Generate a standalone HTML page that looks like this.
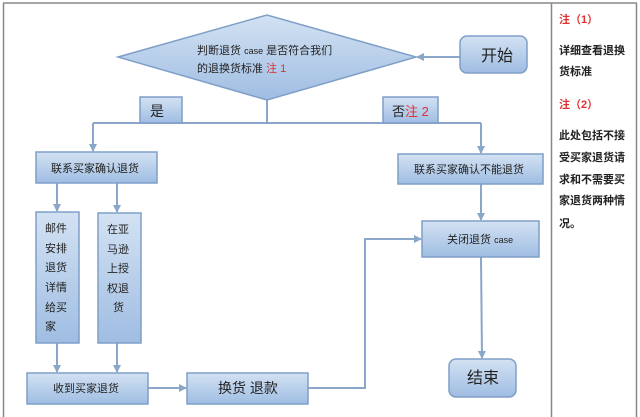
<!DOCTYPE html>
<html><head><meta charset="utf-8"><style>
html,body{margin:0;padding:0;background:#fff;width:640px;height:417px;overflow:hidden}
svg text{font-family:"Liberation Sans","Noto Sans CJK SC",sans-serif;fill:#222}
</style></head><body>
<svg width="640" height="417" xmlns="http://www.w3.org/2000/svg">
<defs>
<linearGradient id="g" x1="0" y1="0" x2="0" y2="1"><stop offset="0" stop-color="#d3e2f3"/><stop offset="1" stop-color="#9fbde2"/></linearGradient>
<marker id="a" markerWidth="8" markerHeight="8" refX="7" refY="4" orient="auto" markerUnits="userSpaceOnUse"><path d="M0,0 L8,4 L0,8 z" fill="#8aa6c8"/></marker>
</defs>
<g stroke="#888" stroke-width="1.5" fill="none">
<line x1="3" y1="3" x2="637" y2="3"/>
<line x1="3.5" y1="3" x2="3.5" y2="417"/>
<line x1="551.5" y1="3" x2="551.5" y2="417"/>
<line x1="636.5" y1="3" x2="636.5" y2="417"/>
</g>
<g stroke="#8aa6c8" stroke-width="2" fill="none">
<line x1="460" y1="57" x2="417" y2="57" marker-end="url(#a)"/>
<line x1="267" y1="100" x2="267" y2="123"/>
<line x1="93" y1="123" x2="481" y2="123"/>
<line x1="93" y1="123" x2="93" y2="151" marker-end="url(#a)"/>
<line x1="481" y1="123" x2="481" y2="153" marker-end="url(#a)"/>
<line x1="57" y1="183" x2="57" y2="211" marker-end="url(#a)"/>
<line x1="117" y1="183" x2="117" y2="212" marker-end="url(#a)"/>
<line x1="57" y1="343" x2="57" y2="372" marker-end="url(#a)"/>
<line x1="117" y1="343" x2="117" y2="372" marker-end="url(#a)"/>
<line x1="148" y1="388" x2="186" y2="388" marker-end="url(#a)"/>
<polyline points="308,388 365,388 365,239 421,239" marker-end="url(#a)"/>
<line x1="481" y1="184" x2="481" y2="220" marker-end="url(#a)"/>
<line x1="481" y1="257" x2="482" y2="358" marker-end="url(#a)"/>
</g>
<g fill="url(#g)" stroke="#7f9fc8" stroke-width="1.5">
<polygon points="118,57 267,15 416,57 267,100"/>
<rect x="460" y="36" width="67" height="37" rx="7"/>
<rect x="140" y="97" width="42" height="26"/>
<rect x="383" y="97" width="55" height="26"/>
<rect x="36" y="152" width="121" height="31"/>
<rect x="398" y="154" width="145" height="30"/>
<rect x="36" y="212" width="43" height="131"/>
<rect x="98" y="213" width="43" height="130"/>
<rect x="27" y="373" width="121" height="31"/>
<rect x="187" y="373" width="121" height="31"/>
<rect x="422" y="221" width="117" height="36"/>
<rect x="449" y="359" width="67" height="38" rx="7"/>
</g>
<g font-size="11">
<text x="197" y="54">判断退货 <tspan font-size="9">case</tspan> 是否符合我们</text>
<text x="197" y="72">的退换货标准 <tspan style="fill:#e03030">注 1</tspan></text>
<text x="481" y="61" font-size="16">开始</text>
<text x="150" y="116" font-size="14">是</text>
<text x="392" y="116" font-size="13">否<tspan style="fill:#e03030">注 2</tspan></text>
<text x="51" y="172">联系买家确认退货</text>
<text x="414" y="173">联系买家确认不能退货</text>
<text x="447" y="243">关闭退货 <tspan font-size="9">case</tspan></text>
<text x="53" y="392">收到买家退货</text>
<text x="218" y="393" font-size="14">换货 退款</text>
<text x="467" y="383" font-size="16">结束</text>
</g>
<g font-size="11">
<text x="45" y="232">邮件</text><text x="45" y="252">安排</text><text x="45" y="271">退货</text><text x="45" y="291">详情</text><text x="45" y="311">给买</text><text x="45" y="330">家</text>
<text x="107" y="233">在亚</text><text x="107" y="253">马逊</text><text x="107" y="272">上授</text><text x="107" y="292">权退</text><text x="113" y="311">货</text>
</g>
<g font-size="11" font-weight="bold">
<text x="559" y="23" style="fill:#e03030">注（1）</text>
<text x="559" y="54">详细查看退换</text>
<text x="559" y="75">货标准</text>
<text x="559" y="108" style="fill:#e03030">注（2）</text>
<text x="559" y="139">此处包括不接</text>
<text x="559" y="161">受买家退货请</text>
<text x="559" y="183">求和不需要买</text>
<text x="559" y="204">家退货两种情</text>
<text x="559" y="227">况。</text>
</g>
</svg>
</body></html>
